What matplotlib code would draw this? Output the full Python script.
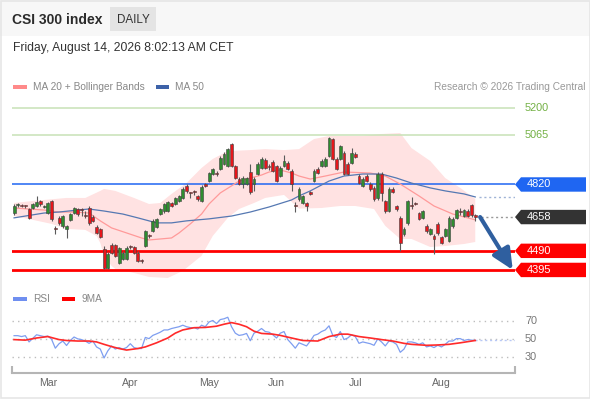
import matplotlib
matplotlib.use("Agg")
import matplotlib.pyplot as plt
import numpy as np
from matplotlib.patches import Rectangle, Polygon
from matplotlib.transforms import blended_transform_factory

plt.rcParams['font.family'] = ['Liberation Sans', 'DejaVu Sans']

# ---------------- data ----------------
opens = [4678,4716,4715,4714,4698,4703,4713,4738,4708,4678,
         4738,4604,4654,4614,4599,4644,4678,4698,4693,4664,
         4703,4660,4609,4599,4499,4405,4519,4519,4430,4450,
         4450,4509,4509,4480,4440,4514,4566,4589,4609,4673,
         4688,4688,4728,4723,4738,4753,4813,4778,4783,4763,
         4738,4822,4837,4872,4874,4897,4922,4912,5021,4912,
         4847,4822,4822,4882,4822,4872,4902,4942,4908,4932,
         4912,4862,4912,4927,4887,4715,4748,4728,4728,4783,
         4837,4897,4912,4912,4962,5046,4947,4947,4977,4922,
         4927,4972,4862,4813,4862,4822,4803,4753,4872,4738,
         4688,4798,4713,4654,4574,4629,4714,4728,4678,4654,
         4614,4574,4564,4624,4559,4564,4539,4614,4654,4684,
         4664,4690,4718,4668]
closes = [4713,4720,4712,4711,4654,4723,4733,4723,4711,4728,
          4649,4600,4629,4663,4614,4673,4703,4673,4691,4661,
          4629,4640,4579,4559,4405,4475,4480,4465,4504,4480,
          4504,4507,4480,4440,4437,4589,4564,4639,4649,4698,
          4723,4733,4713,4753,4763,4798,4788,4776,4781,4748,
          4808,4813,4877,4897,4872,4952,4972,4996,4912,4852,
          4822,4852,4852,4783,4847,4922,4947,4902,4906,4887,
          4837,4902,4937,4897,4822,4711,4798,4763,4713,4773,
          4887,4877,4937,4947,5051,4947,4897,5011,4872,4872,
          4977,4957,4827,4847,4837,4798,4748,4872,4778,4688,
          4798,4783,4698,4529,4599,4738,4712,4723,4649,4688,
          4589,4599,4549,4579,4529,4599,4654,4649,4693,4682,
          4693,4664,4668,4658]
highs = [4725,4728,4722,4720,4705,4730,4763,4745,4718,4735,
         4745,4612,4665,4670,4620,4680,4710,4705,4703,4690,
         4712,4668,4618,4606,4512,4482,4530,4526,4510,4488,
         4512,4520,4515,4487,4448,4596,4572,4646,4655,4705,
         4730,4740,4735,4760,4770,4805,4820,4785,4792,4770,
         4815,4828,4884,4904,4885,4960,4980,5003,5028,4918,
         4855,4860,4858,4920,4855,4930,4955,4950,4920,4940,
         4918,4910,4968,4935,4895,4735,4805,4770,4735,4790,
         4895,4905,4945,4955,5058,5052,4955,5018,4985,4930,
         5000,4980,4870,4855,4870,4830,4810,4880,4880,4745,
         4805,4805,4720,4662,4608,4745,4760,4735,4685,4695,
         4622,4606,4572,4632,4566,4606,4661,4656,4700,4705,
         4700,4698,4725,4675]
lows = [4670,4710,4706,4705,4648,4698,4708,4715,4702,4672,
        4640,4575,4620,4605,4555,4638,4672,4665,4665,4655,
        4620,4633,4572,4552,4398,4398,4472,4458,4425,4442,
        4444,4498,4472,4432,4428,4508,4556,4582,4602,4668,
        4680,4682,4706,4716,4732,4746,4780,4755,4770,4740,
        4732,4806,4830,4866,4862,4890,4915,4905,4905,4845,
        4815,4800,4815,4775,4790,4865,4895,4895,4890,4880,
        4830,4855,4905,4890,4790,4685,4740,4722,4690,4766,
        4830,4870,4905,4905,4955,4940,4890,4940,4865,4865,
        4920,4950,4820,4806,4830,4790,4740,4745,4740,4680,
        4682,4776,4690,4490,4566,4620,4700,4716,4642,4647,
        4580,4567,4475,4570,4522,4557,4532,4606,4647,4670,
        4657,4657,4660,4640]

ma20_idx = [0,4,8,12,16,20,23,26,30,34,36,39,42,44,47,50,52,55,58,60,63,66,68,
            71,74,76,79,83,88,95,99,103,108,112,117,121,123]
ma20 = [4703,4698,4693,4683,4683,4678,4639,4604,4579,4554,4544,4549,4554,4579,
        4624,4673,4723,4778,4813,4837,4852,4867,4882,4892,4877,4862,4847,4862,
        4882,4877,4862,4822,4763,4713,4673,4654,4644]

ma50_idx = [0,8,12,17,20,24,29,33,38,42,46,52,58,63,68,74,76,79,84,88,93,98,
            102,106,111,115,120,123]
ma50 = [4654,4678,4683,4693,4698,4688,4673,4654,4629,4629,4639,4649,4663,4683,
        4708,4743,4763,4788,4837,4862,4872,4872,4852,4827,4803,4788,4773,4758]

bb_up_idx = [0,5,14,19,23,24,27,32,36,39,42,46,50,53,57,63,67,72,76,80,84,93,
             98,103,106,111,115,119,123]
bb_up = [4728,4738,4753,4753,4788,4798,4788,4753,4723,4728,4773,4827,4902,4947,
         4986,4991,4996,4991,4996,5046,5061,5061,5071,5076,5001,4937,4852,4803,4748]

bb_lo_idx = [0,5,10,14,19,22,23,24,26,27,32,36,41,45,50,53,57,60,64,67,72,76,
             82,87,91,96,99,103,106,111,115,120,123]
bb_lo = [4663,4644,4624,4599,4594,4564,4529,4465,4415,4400,4380,4360,4355,4390,
         4465,4564,4654,4698,4728,4753,4768,4700,4703,4713,4713,4698,4614,4549,
         4549,4509,4514,4524,4534]

rsi = [54,54,53,54,47,51,55,54,53,53.5,
       50,40,45,48,43,48.6,52.5,50.4,49.6,48,
       45.4,48,41.4,39,29,37,42.5,39,40.7,39,
       40.7,45,40.7,39.6,39.6,52,50.7,54.3,56,57.9,
       60.4,60.4,62,63,64,65.7,64,63,63,61.4,
       65.7,64,69.3,71,67.5,72,72.9,74.6,64,56.8,
       54.3,55,56.5,48.3,56.8,59,62,58.6,57.9,55,
       51.4,56.8,58.6,49.6,45,40,46,44.3,42.5,48,
       54.3,55.7,58.6,60.4,65,54.3,52,58.6,49.6,51.4,
       55,53,45.4,47,46,45,43.2,50.4,47,42.5,
       48,47,44.3,35.4,39,47,47,46,44.3,46,
       41.4,42.5,40.7,43.2,41.4,44.3,48,48,50.7,50.7,
       48.6,49.6,49,48.6]

rsi_ma_idx = [0,3,6,9,12,14,17,20,22,24,26,28,30,33,35,38,41,43,45,48,51,54,56,
              58,60,62,64,66,69,71,74,77,81,84,87,89,92,95,98,101,104,106,110,
              113,116,119,123]
rsi_ma = [49.6,49,51.4,53,49.6,48.6,48,48,47,44.3,41.8,39.6,37.9,39.6,41.4,46,
          51.4,56.8,60.4,62.9,63.2,64.6,66.8,68.6,66.8,64,59,56.5,55.7,54.3,
          51.4,48.6,48,53,55.7,55.7,53,51.4,49.6,48,45.4,44.3,43.2,43.6,44.3,
          46,48.6]

month_labels = ["Mar", "Apr", "May", "Jun", "Jul", "Aug"]
month_pos = [9, 31, 52, 70, 91, 114]

resistances = [5200, 5065]
pivot = 4820
supports = [4490, 4395]
rsi_levels = [70, 50, 30]

# ---------------- figure ----------------
W, H = 590, 400
fig = plt.figure(figsize=(W / 100, H / 100), dpi=100)
fig.patch.set_facecolor("white")

def fx(px):
    return px / W

def fy(py):
    return 1 - py / H

# header background and border
fig.patches.append(Rectangle((0, fy(36)), 1, 36 / H, transform=fig.transFigure,
                             facecolor="#f7f7f7", edgecolor="none", zorder=0))
fig.patches.append(Rectangle((fx(0.5), fy(397.5)), fx(589), 397 / H, transform=fig.transFigure,
                             facecolor="none", edgecolor="#e6e6e6", lw=1.2, zorder=0))
fig.patches.append(Rectangle((fx(110), fy(31)), fx(46), 24 / H, transform=fig.transFigure,
                             facecolor="#e4e4e4", edgecolor="none", zorder=1))

fig.text(fx(12), fy(19.5), "CSI 300 index", fontsize=10.0, fontweight="bold",
         color="#2b2b2b", va="center", ha="left")
fig.text(fx(133), fy(20), "DAILY", fontsize=8.4, color="#333333", va="center", ha="center")
fig.text(fx(13), fy(48.5), "Friday, August 14, 2026 8:02:13 AM CET", fontsize=8.75,
         color="#333333", va="center", ha="left")

# legend row (price)
fig.patches.append(Rectangle((fx(13), fy(88.5)), fx(14), 4 / H, transform=fig.transFigure,
                             facecolor="#ff8a8a", edgecolor="none"))
fig.text(fx(33), fy(86.5), "MA 20 + Bollinger Bands", fontsize=7.3, color="#888888", va="center")
fig.patches.append(Rectangle((fx(156), fy(88.5)), fx(13), 4 / H, transform=fig.transFigure,
                             facecolor="#3d62a8", edgecolor="none"))
fig.text(fx(175), fy(86.5), "MA 50", fontsize=7.3, color="#888888", va="center")
fig.text(fx(585), fy(86.5), "Research \u00a9 2026 Trading Central", fontsize=7.3,
         color="#999999", va="center", ha="right")

# ---------------- price axes ----------------
YLO, YHI = 4335, 5265
ax = fig.add_axes([fx(12), fy(282), fx(515) - fx(12), (282 - 95) / H])
ax.set_xlim(-0.55, 133.6)
ax.set_ylim(YLO, YHI)
ax.axis("off")

n = len(closes)
x = np.arange(n)
o = np.array(opens); c = np.array(closes); h = np.array(highs); l = np.array(lows)

# bollinger band fill
poly_x = list(bb_up_idx) + list(bb_lo_idx[::-1])
poly_y = list(bb_up) + list(bb_lo[::-1])
ax.fill(poly_x, poly_y, color="#ffe2e2", lw=0, zorder=1)

# horizontal levels
for r in resistances:
    ax.axhline(r, color="#c8e2b6", lw=1.1, zorder=2)
ax.axhline(pivot, color="#1f66f2", lw=1.1, zorder=2)
for s in supports:
    ax.axhline(s, color="#ff0000", lw=2.0, zorder=2)

# moving averages
ax.plot(ma20_idx, ma20, color="#ff9a9a", lw=0.9, zorder=2.5)
ax.plot(ma50_idx, ma50, color="#5578b2", lw=0.9, zorder=2.5)

# dotted extensions
ax.plot([ma50_idx[-1] + 1, 133.6], [ma50[-1], ma50[-1]], color="#9fb3d6",
        lw=1.0, ls=(0, (1.5, 2)), zorder=2)
ax.plot([n + 0.5, 133.6], [closes[-1], closes[-1]], color="#999999",
        lw=1.0, ls=(0, (1.5, 2)), zorder=2)

# candles
up = c >= o
body_bot = np.minimum(o, c)
body_h = np.maximum(np.abs(c - o), 5)
cols = np.where(up, "#2f8c2f", "#e5161b")
ax.vlines(x, l, h, color="#5a5a5a", lw=0.8, zorder=3)
ax.bar(x, body_h, bottom=body_bot, width=0.78, color=cols, edgecolor="#404040",
       linewidth=0.4, zorder=4)

# arrow toward second support
ax.annotate("", xy=(n + 9.0, supports[1]), xytext=(n + 0.3, closes[-1]),
            arrowprops=dict(arrowstyle="-|>,head_length=0.9,head_width=0.42",
                            mutation_scale=14, color="#2f5f9f", lw=3.0,
                            shrinkA=0, shrinkB=0),
            zorder=5, annotation_clip=False)

# right-side labels
bt = blended_transform_factory(fig.transFigure, ax.transData)
px_per_price = (ax.get_position().height * H) / (YHI - YLO)
half = 7.2 / px_per_price
for r in resistances:
    ax.text(fx(525), r, f"{r}", transform=bt, fontsize=7.8, color="#72b043",
            va="center", ha="left", clip_on=False)

def box_label(val, color):
    verts = [(fx(515), val), (fx(521), val + half), (fx(586), val + half),
             (fx(586), val - half), (fx(521), val - half)]
    p = Polygon(verts, closed=True, transform=bt, facecolor=color, edgecolor="none",
                clip_on=False, zorder=6)
    ax.add_patch(p)
    ax.text(fx(527), val, f"{val}", transform=bt, fontsize=7.9, color="white",
            va="center", ha="left", clip_on=False, zorder=7)

box_label(pivot, "#1f66f2")
box_label(closes[-1], "#333333")
for s in supports:
    box_label(s, "#ff0000")

# ---------------- RSI axes ----------------
fig.patches.append(Rectangle((fx(13), fy(300.5)), fx(14), 4 / H, transform=fig.transFigure,
                             facecolor="#6f8ff0", edgecolor="none"))
fig.text(fx(33), fy(298.5), "RSI", fontsize=7.3, color="#888888", va="center")
fig.patches.append(Rectangle((fx(62), fy(300.5)), fx(13), 4 / H, transform=fig.transFigure,
                             facecolor="#ff0000", edgecolor="none"))
fig.text(fx(82), fy(298.5), "9MA", fontsize=7.3, color="#888888", va="center")

rax = fig.add_axes([fx(12), fy(372.5), fx(515) - fx(12), (372.5 - 305) / H])
rax.set_xlim(-0.55, 133.6)
rax.set_ylim(12.8, 88.3)
rax.set_facecolor("none")
for sp in ["top", "left", "right"]:
    rax.spines[sp].set_visible(False)
rax.spines["bottom"].set_color("#b5b5b5")
rax.spines["bottom"].set_linewidth(1.5)
rax.set_yticks([])
rax.set_xticks(month_pos)
rax.set_xticklabels(month_labels)
rax.tick_params(axis="x", length=0, pad=4.0, labelsize=7.6, labelcolor="#666666")
for xe in [0, 1]:
    rax.plot([xe, xe], [0, 0.09], transform=rax.transAxes, color="#b5b5b5", lw=1.5,
             clip_on=False, solid_capstyle="butt")

rbt = blended_transform_factory(fig.transFigure, rax.transData)
for lv in rsi_levels:
    rax.axhline(lv, color="#bdbdbd", lw=1.0, ls=(0, (1, 3)), zorder=1)
    rax.text(fx(525), lv, f"{lv}", transform=rbt, fontsize=7.8, color="#777777",
             va="center", ha="left", clip_on=False)

rax.plot(x, rsi, color="#7e9ef0", lw=0.9, zorder=3)
rax.plot([n - 1, 133.6], [rsi[-1], rsi[-1]], color="#b8c8f5", lw=1.0,
         ls=(0, (1.5, 2)), zorder=2)
rax.plot(rsi_ma_idx, rsi_ma, color="#ff2a2a", lw=1.2, zorder=4)

fig.savefig("out.png", dpi=100)
